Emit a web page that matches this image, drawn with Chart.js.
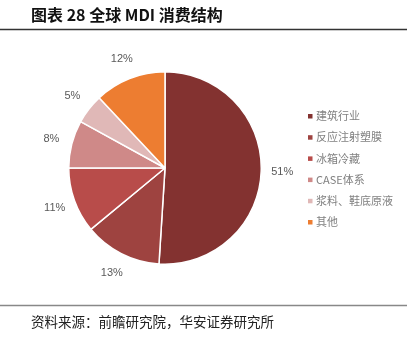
<!DOCTYPE html>
<html>
<head>
<meta charset="utf-8">
<script src="https://cdn.jsdelivr.net/npm/chart.js@4.4.0/dist/chart.umd.min.js"></script>
<style>
  html, body { margin: 0; padding: 0; background: #fff; }
  #wrap { width: 414px; height: 338px; position: relative; }
</style>
</head>
<body>
<div id="wrap"><canvas id="mdiPie"></canvas></div>
<script>
const categories = ['建筑行业', '反应注射塑膜', '冰箱冷藏', 'CASE体系', '浆料、鞋底原液', '其他'];
const shares = [51, 13, 11, 8, 5, 12];
const sliceColors = ['#833230', '#9e4340', '#b84c4a', '#cf8988', '#e0b8b7', '#ed7d31'];

const CJK = '"Noto Sans CJK SC", "Noto Sans", sans-serif';

// title, rules, footer, outside % labels and the legend
const decor = {
  id: 'decor',
  afterDraw(chart) {
    const ctx = chart.ctx;
    ctx.save();

    ctx.fillStyle = '#111';
    ctx.font = 'bold 16px ' + CJK;
    ctx.textBaseline = 'middle';
    ctx.fillText('图表 28 全球 MDI 消费结构', 31, 15);

    ctx.strokeStyle = '#333';
    ctx.lineWidth = 1.5;
    ctx.beginPath();
    ctx.moveTo(0, 29.5);
    ctx.lineTo(407, 29.5);
    ctx.stroke();

    ctx.strokeStyle = '#888';
    ctx.lineWidth = 1.5;
    ctx.beginPath();
    ctx.moveTo(0, 305.5);
    ctx.lineTo(407, 305.5);
    ctx.stroke();

    ctx.fillStyle = '#222';
    ctx.font = '13.5px ' + CJK;
    ctx.fillText('资料来源：前瞻研究院，华安证券研究所', 31, 322);

    // percent labels just outside each arc
    const meta = chart.getDatasetMeta(0);
    ctx.fillStyle = '#595959';
    ctx.font = '11px "Liberation Sans", Arial, sans-serif';
    ctx.textAlign = 'center';
    meta.data.forEach((arc, i) => {
      const mid = (arc.startAngle + arc.endAngle) / 2;
      const r = arc.outerRadius + 21;
      ctx.fillText(shares[i] + '%', arc.x + Math.cos(mid) * r, arc.y + Math.sin(mid) * r);
    });

    // legend
    ctx.textAlign = 'left';
    ctx.font = '11px ' + CJK;
    categories.forEach((name, i) => {
      const y = 116 + i * 21.2;
      ctx.fillStyle = sliceColors[i];
      ctx.fillRect(308, y - 2, 4.5, 4.5);
      ctx.fillStyle = '#808080';
      ctx.fillText(name, 316, y);
    });

    ctx.restore();
  }
};

new Chart(document.getElementById('mdiPie'), {
  type: 'pie',
  data: {
    labels: categories,
    datasets: [{
      data: shares,
      backgroundColor: sliceColors,
      borderColor: '#fff',
      borderWidth: 1.5
    }]
  },
  options: {
    responsive: true,
    maintainAspectRatio: false,
    animation: false,
    layout: { padding: { left: 68, right: 152, top: 71, bottom: 73 } },
    plugins: {
      legend: { display: false },
      tooltip: { enabled: false }
    }
  },
  plugins: [decor]
});
</script>
</body>
</html>
